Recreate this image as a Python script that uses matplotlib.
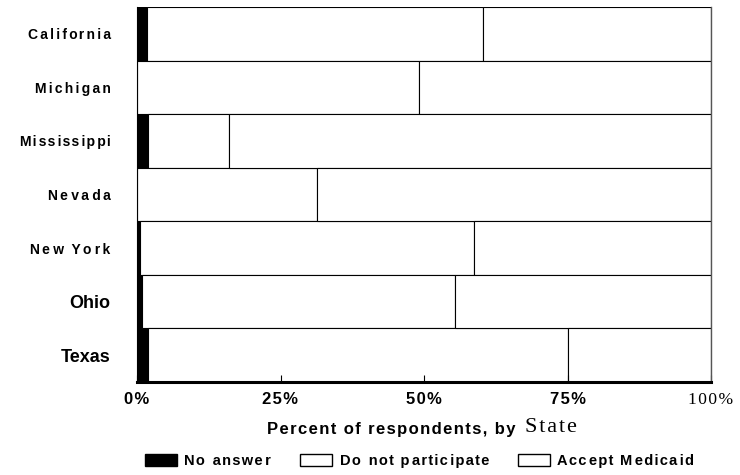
import matplotlib.pyplot as plt
from matplotlib.patches import Patch
import numpy as np

states = ["California", "Michigan", "Mississippi", "Nevada", "New York", "Ohio", "Texas"]
no_answer = [1.8, 0.0, 1.9, 0.0, 0.5, 0.9, 2.0]
do_not_participate = [58.5, 49.1, 14.1, 31.3, 58.2, 54.5, 73.1]
accept_medicaid = [39.7, 50.9, 84.0, 68.7, 41.3, 44.6, 24.9]
tick_vals = [0, 25, 50, 75, 100]
tick_labels = ["0%", "25%", "50%", "75%", "100%"]
legend_labels = ["No answer", "Do not participate", "Accept Medicaid"]

sans = ["Liberation Sans", "DejaVu Sans"]
serif = ["Liberation Serif", "DejaVu Serif"]
HAIR = "\u200a"

# how loose each state name is set in the scan (hair spaces per gap)
state_tracking = {"California": 1.9, "Michigan": 2.0, "Mississippi": 1.4,
                  "Nevada": 2.4, "New York": 2.4, "Ohio": 0, "Texas": 0}


def spaced(s, n=1.0):
    # the scanned lettering is set loosely, fake it with hair spaces
    out = s[0]
    for i, ch in enumerate(s[1:]):
        k = round((i + 1) * n) - round(i * n)
        out += HAIR * k + ch
    return out


fig = plt.figure(figsize=(7.4, 4.75), dpi=100)
ax = fig.add_axes([137 / 740, 1 - 382 / 475, (711 - 137) / 740, (382 - 7) / 475])

y = np.arange(len(states))
na = np.array(no_answer)
dnp = np.array(do_not_participate)
acc = np.array(accept_medicaid)

ax.barh(y, na, height=1.0, color="black", edgecolor="black", linewidth=0.8)
ax.barh(y, dnp, left=na, height=1.0, color="white", edgecolor="black", linewidth=0.8)
ax.barh(y, acc, left=na + dnp, height=1.0, color="white", edgecolor="black", linewidth=0.8)

ax.set_xlim(0, 100)
ax.set_ylim(len(states) - 0.5, -0.5)

ylabels = []
for s in states:
    if s == "New York":
        ylabels.append(spaced("New", 2.4) + "  " + spaced("York", 2.4))
    else:
        ylabels.append(spaced(s, state_tracking[s]))
ax.set_yticks(y)
ax.set_yticklabels(ylabels, fontfamily=sans, fontweight="bold", fontsize=10)
for lab, s in zip(ax.get_yticklabels(), states):
    if s in ("Ohio", "Texas"):
        lab.set_fontsize(13)
ax.tick_params(axis="y", length=0, pad=19)

ax.set_xticks(tick_vals)
ax.set_xticklabels([spaced(t) for t in tick_labels], fontfamily=sans, fontweight="bold", fontsize=12)
labs = ax.get_xticklabels()
labs[-1].set_text(tick_labels[-1])
labs[-1].set_fontfamily(serif)
labs[-1].set_fontweight("normal")
labs[-1].set_fontsize(12.5)
ax.tick_params(axis="x", direction="in", length=5, width=0.8, pad=7)

ax.spines["top"].set_visible(False)
ax.spines["left"].set_linewidth(0.8)
ax.spines["bottom"].set_linewidth(2.2)
ax.spines["right"].set_color("#555555")
ax.spines["right"].set_linewidth(1.0)

# x label with mixed fonts, as in the original
t1 = fig.text(267 / 740, 1 - 434 / 475, spaced("Percent of respondents, by") + "  ",
              fontfamily=sans, fontweight="bold", fontsize=12, ha="left", va="baseline")
ax.annotate(spaced("State"), xy=(1, 0), xycoords=t1, va="bottom", ha="left",
            fontfamily=serif, fontsize=16)

handles = [Patch(facecolor="black", edgecolor="black"),
           Patch(facecolor="white", edgecolor="black"),
           Patch(facecolor="white", edgecolor="black")]
fig.legend(handles, [spaced(t, 1.2) for t in legend_labels],
           loc="center", bbox_to_anchor=(0.567, 1 - 461 / 475), ncol=3, frameon=False,
           prop={"family": sans, "weight": "bold", "size": 10.5},
           handlelength=2.2, handleheight=0.95, handletextpad=0.5, columnspacing=2.0)

fig.savefig("out.png", dpi=100)
